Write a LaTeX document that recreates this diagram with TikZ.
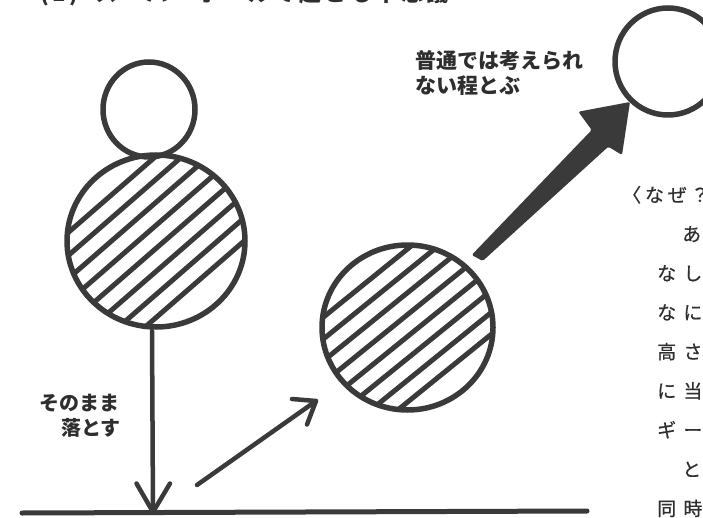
\documentclass[tikz,border=0pt]{standalone}
\usepackage{fontspec}
\setmainfont{Noto Sans CJK JP}
\newfontfamily\labelf{Noto Sans CJK JP}
\newfontfamily\titlef[LetterSpace=16]{Noto Sans CJK JP}
\newfontfamily\paraf[LetterSpace=38,FakeBold=0.6]{Noto Sans CJK JP}
\newfontfamily\parafirst[LetterSpace=20,FakeBold=0.6]{Noto Sans CJK JP}
\definecolor{ink}{HTML}{3A3A3A}
\definecolor{txt}{HTML}{2E2E2E}
\tikzset{
  outline/.style={draw=ink, line width=5.5pt},
  hatchline/.style={draw=ink, line width=5pt, line cap=round},
  stroke/.style={draw=ink, line width=4.5pt, line cap=round, line join=round},
  lbl/.style={inner sep=0pt, anchor=base west, text=txt, font=\labelf\bfseries\fontsize{21pt}{24pt}\selectfont},
  lblsm/.style={inner sep=0pt, text=txt, font=\labelf\bfseries\fontsize{20pt}{24pt}\selectfont},
  para/.style={inner sep=0pt, anchor=base west, text=txt, font=\paraf\fontsize{19pt}{20pt}\selectfont},
  parahead/.style={inner sep=0pt, anchor=base west, text=txt, font=\parafirst\fontsize{19pt}{20pt}\selectfont},
  titletext/.style={inner sep=0pt, anchor=base west, text=txt, font=\titlef\bfseries\fontsize{22pt}{24pt}\selectfont},
}
\begin{document}
\begin{tikzpicture}[x=1pt, y=-1pt, line cap=round, line join=round]
\useasboundingbox (0,0) rectangle (703,518);
\clip (0,0) rectangle (703,518);

% title (cut off at the top)
\node[titletext] (t1) at (40,2) {(1)};
\node[titletext] (t2) at (95,2) {スーパーボールで起こる不思議};

% centres
\coordinate (head) at (149,109.5);
\coordinate (cL) at (156,241);
\coordinate (cM) at (407.5,327.5);
\coordinate (cT) at (668,61.5);

% left ball hatching
\begin{scope}
  \clip (cL) ellipse [x radius=89pt, y radius=86pt];
  \begin{scope}[shift={(cL)}, rotate=41]
    \foreach \o in {-64,-46.6,-29.2,-11.8,5.6,23,40.4,57.8}
      \draw[hatchline] (-130,\o) -- (130,\o);
  \end{scope}
\end{scope}
% middle ball hatching
\begin{scope}
  \clip (cM) ellipse [x radius=85.5pt, y radius=82.5pt];
  \begin{scope}[shift={(cM)}, rotate=39]
    \foreach \o in {-61,-44,-27,-10,7,24,41,58}
      \draw[hatchline] (-130,\o) -- (130,\o);
  \end{scope}
\end{scope}

\draw[outline] (head) ellipse [x radius=46pt, y radius=47.5pt];
\draw[outline] (cL) ellipse [x radius=89pt, y radius=86pt];
\draw[outline] (cM) ellipse [x radius=85.5pt, y radius=82.5pt];
\draw[outline] (cT) ellipse [x radius=53pt, y radius=53.5pt];

% ground
\coordinate (gL) at (22,513);
\coordinate (gR) at (587,511);
\draw[stroke, line width=5pt] (gL) -- (gR);

% drop arrow
\coordinate (dropS) at (152,331);
\coordinate (dropE) at (153,512);
\draw[stroke] (dropS) -- (dropE);
\draw[stroke] (dropE) ++(-16.5,-28.5) -- (dropE) -- ++(17,-28.5);

% bounce arrow
\coordinate (bS) at (197,485);
\coordinate (bE) at (316,401);
\draw[stroke] (bS) -- (bE);
\draw[stroke] (bE) ++(-24,-2) -- (bE) -- ++(-9,23.5);

% big arrow
\coordinate (jS) at (477,258);
\coordinate (jE) at (630,102);
\fill[ink, rounded corners=1.5pt] (471.7,255) -- (591.7,130) -- (578.3,111.7) -- (jE)
   -- (622,155) -- (608.3,146.7) -- (482.7,261) -- cycle;

% labels
\node[lbl] (fly1) at (415,69) {普通では考えられ};
\node[lbl] (fly2) at (415,94) {ない程とぶ};
\node[lblsm, anchor=base west] (drop1) at (39,410) {そのまま};
\node[lblsm, anchor=base east] (drop2) at (121,435) {落とす};

% paragraph on the right (cut off)
\node[parahead] (p1) at (622,202) {〈なぜ？〉};
\node[para] (p2) at (682,241.2) {あ};
\node[para] (p3) at (657,280.4) {なし};
\node[para] (p4) at (657,319.6) {なに};
\node[para] (p5) at (657,358.8) {高さ};
\node[para] (p6) at (657,398) {に当};
\node[para] (p7) at (657,437.2) {ギー};
\node[para] (p8) at (682,476.4) {と};
\node[para] (p9) at (657,515.6) {同時};
\end{tikzpicture}
\end{document}
